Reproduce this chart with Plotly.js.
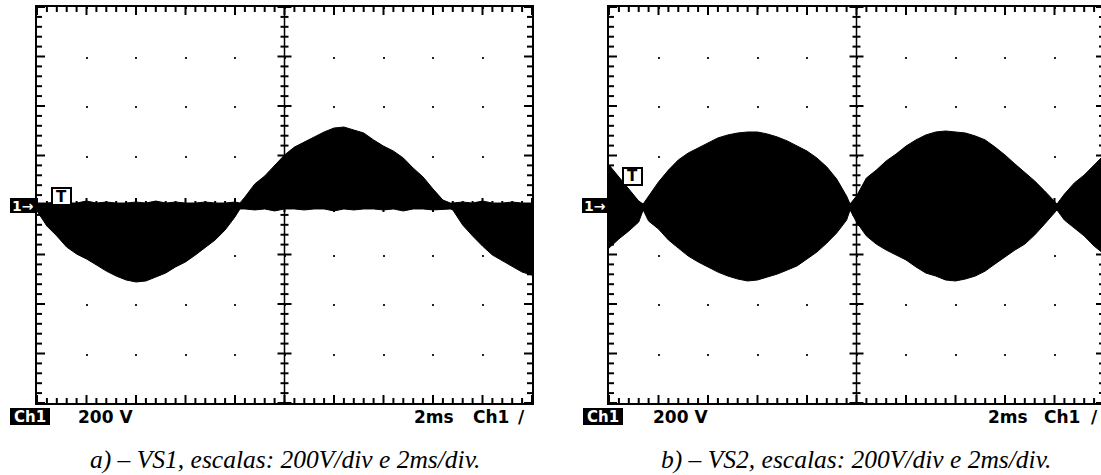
<!DOCTYPE html>
<html>
<head>
<meta charset="utf-8">
<script src="https://cdn.plot.ly/plotly-3.0.1.min.js"></script>
<style>
html,body{margin:0;padding:0;background:#fff;overflow:hidden;}
#chart{width:1110px;height:475px;}
</style>
</head>
<body>
<div id="chart"></div>
<script>
// ---------------- DATA ----------------
// Time in ms (2 ms/div, 10 div), voltage in V (200 V/div, 8 div)
const vs1_t = [0,0.4,0.8,1.2,1.6,2.0,2.4,2.8,3.2,3.6,4.0,4.4,4.8,5.2,5.6,6.0,6.4,6.8,7.2,7.6,8.0,8.2,
  8.4,8.8,9.2,9.6,10.0,10.4,10.8,11.2,11.6,12.0,12.4,12.8,13.2,13.6,14.0,14.4,14.8,15.2,15.6,16.0,16.4,16.7,
  16.8,17.2,17.6,18.0,18.4,18.8,19.2,19.6,20.0];
const vs1_upper = [8,8,12,8,8,16,8,12,8,8,12,8,16,8,12,8,8,12,8,8,12,8,
  32,85,117,158,202,234,255,275,295,311,315,303,291,263,238,218,190,149,113,65,20,8,
  8,12,8,16,8,8,12,8,8];
const vs1_lower = [-24,-85,-125,-170,-198,-218,-242,-267,-287,-303,-311,-307,-291,-275,-250,-230,-202,-170,-141,-101,-48,-16,
  -16,-20,-16,-24,-16,-16,-20,-16,-16,-24,-16,-20,-16,-16,-20,-16,-24,-16,-16,-20,-16,-16,
  -20,-81,-125,-166,-202,-226,-250,-271,-283];

const vs2_t = [0,0.4,0.8,1.2,1.38,1.6,2.0,2.4,2.8,3.2,3.6,4.0,4.4,4.8,5.2,5.6,6.0,6.4,6.8,7.2,7.6,8.0,8.4,8.8,9.2,9.6,9.74,
  10.0,10.4,10.8,11.2,11.6,12.0,12.4,12.8,13.2,13.6,14.0,14.4,14.8,15.2,15.6,16.0,16.4,16.8,17.2,17.6,18.0,18.1,
  18.4,18.8,19.2,19.6,20.0];
const vs2_upper = [162,113,61,16,4,36,93,141,182,210,230,250,271,283,291,295,295,287,275,259,238,218,190,154,105,36,4,
  36,109,141,178,206,238,263,283,295,299,295,291,279,263,234,202,166,133,97,57,16,4,
  44,89,121,162,202];
const vs2_lower = [-174,-137,-105,-69,-20,-65,-97,-141,-174,-206,-230,-250,-271,-287,-299,-307,-303,-291,-279,-263,-246,-218,-190,-154,-113,-61,-20,
  -69,-125,-158,-182,-202,-222,-250,-275,-287,-303,-307,-299,-287,-267,-238,-210,-182,-158,-121,-77,-32,-20,
  -61,-93,-125,-166,-198];

const scopeLabels = {ch: "Ch1", volts: "200 V", time: "2ms", trig: "Ch1", slope: "/", marker: "1→", trigMark: "T"};
const captions = ["a) – VS1, escalas: 200V/div e 2ms/div.", "b) – VS2, escalas: 200V/div e 2ms/div."];

// ---------------- LAYOUT ----------------
const W = 1110, H = 475;
const fx = x => x / W;
const fy = y => 1 - y / H;
const panels = [
  {xa:'x', ya:'y', left:37, right:532, trigX:52, trigY:188, captionX:285,
   labels:{chBox:10, volts:77, time:413, trig:472, slope:517}},
  {xa:'x2', ya:'y2', left:609, right:1104, trigX:623, trigY:168, captionX:856,
   labels:{chBox:583, volts:652, time:987, trig:1043, slope:1090}}
];
const TOP = 7, BOTTOM = 403;
const yDomain = [fy(BOTTOM), fy(TOP)];
const T_MIN = 0, T_MAX = 20, V_MIN = -800, V_MAX = 800;

function lineTrace(t, v, xa, ya, fill){
  const tr = {x:t, y:v, xaxis:xa, yaxis:ya, type:'scatter', mode:'lines',
    line:{color:'#000', width:1}, hoverinfo:'skip', showlegend:false};
  if (fill){ tr.fill = 'tonexty'; tr.fillcolor = '#000'; }
  return tr;
}
const data = [
  lineTrace(vs1_t, vs1_lower, 'x', 'y', false),
  lineTrace(vs1_t, vs1_upper, 'x', 'y', true),
  lineTrace(vs2_t, vs2_lower, 'x2', 'y2', false),
  lineTrace(vs2_t, vs2_upper, 'x2', 'y2', true)
];

function xAxis(domain){
  return {domain:domain, range:[T_MIN,T_MAX], showticklabels:false, zeroline:false, fixedrange:true,
    showline:true, linecolor:'#000', linewidth:2, mirror:true, ticks:'', dtick:2, tick0:0,
    showgrid:true, gridcolor:'#222', gridwidth:2, griddash:'2px,47.5px'};
}
function yAxis(anchor){
  return {domain:yDomain, range:[V_MIN,V_MAX], anchor:anchor, showticklabels:false, zeroline:false, fixedrange:true,
    showline:true, linecolor:'#000', linewidth:2, mirror:true, ticks:'', dtick:200, showgrid:false};
}

const shapes = [];
const annotations = [];
const scopeFont = {family:'DejaVu Sans', size:17, color:'#000'};
const tickLine = {color:'#000', width:2};

panels.forEach((p, i) => {
  // centre crosshair
  shapes.push({type:'line', xref:p.xa, yref:p.ya, x0:10, x1:10, y0:V_MIN, y1:V_MAX, line:{color:'#000', width:1.5}, layer:'above'});
  shapes.push({type:'line', xref:p.xa, yref:p.ya, x0:T_MIN, x1:T_MAX, y0:0, y1:0, line:{color:'#000', width:1.5}, layer:'above'});
  // vertical graduations (every 1/5 div = 40 V)
  for (let k = 0; k <= 40; k++){
    const v = V_MIN + k*40, major = (k % 5 === 0);
    const L = major ? 7 : 4, E = major ? 8 : 5;
    shapes.push({type:'line', xref:p.xa, yref:p.ya, xsizemode:'pixel', xanchor:10, x0:-L, x1:L, y0:v, y1:v, line:tickLine, layer:'above'});
    shapes.push({type:'line', xref:p.xa, yref:p.ya, xsizemode:'pixel', xanchor:T_MIN, x0:0, x1:E, y0:v, y1:v, line:tickLine, layer:'above'});
    shapes.push({type:'line', xref:p.xa, yref:p.ya, xsizemode:'pixel', xanchor:T_MAX, x0:-E, x1:0, y0:v, y1:v, line:tickLine, layer:'above'});
  }
  // horizontal graduations (every 1/5 div = 0.4 ms)
  for (let k = 0; k <= 50; k++){
    const t = k*2/5, major = (k % 5 === 0);
    const L = major ? 7 : 4, E = major ? 8 : 5;
    shapes.push({type:'line', xref:p.xa, yref:p.ya, ysizemode:'pixel', yanchor:0, y0:-L, y1:L, x0:t, x1:t, line:tickLine, layer:'above'});
    shapes.push({type:'line', xref:p.xa, yref:p.ya, ysizemode:'pixel', yanchor:V_MAX, y0:-E, y1:0, x0:t, x1:t, line:tickLine, layer:'above'});
    shapes.push({type:'line', xref:p.xa, yref:p.ya, ysizemode:'pixel', yanchor:V_MIN, y0:0, y1:E, x0:t, x1:t, line:tickLine, layer:'above'});
  }
  // "1->" ground marker
  const mkL = p.left - 27, mkR = p.left - 1;
  shapes.push({type:'rect', xref:'paper', yref:'paper', x0:fx(mkL), x1:fx(mkR), y0:fy(213), y1:fy(198),
    fillcolor:'#000', line:{width:0}});
  annotations.push({xref:'paper', yref:'paper', x:fx((mkL+mkR)/2), y:fy(205.5), xanchor:'center', yanchor:'middle',
    text:'<b>'+scopeLabels.marker+'</b>', showarrow:false, font:{family:'DejaVu Sans', size:14, color:'#fff'}});
  // trigger marker "T"
  shapes.push({type:'rect', xref:'paper', yref:'paper', x0:fx(p.trigX), x1:fx(p.trigX+19), y0:fy(p.trigY+17), y1:fy(p.trigY),
    fillcolor:'#fff', line:{color:'#000', width:2}});
  annotations.push({xref:'paper', yref:'paper', x:fx(p.trigX+9.5), y:fy(p.trigY+8.5), xanchor:'center', yanchor:'middle',
    text:'<b>'+scopeLabels.trigMark+'</b>', showarrow:false, font:{family:'DejaVu Sans', size:15, color:'#000'}});
  // bottom readouts
  const lb = p.labels;
  shapes.push({type:'rect', xref:'paper', yref:'paper', x0:fx(lb.chBox), x1:fx(lb.chBox+40), y0:fy(425), y1:fy(408),
    fillcolor:'#000', line:{width:0}});
  annotations.push({xref:'paper', yref:'paper', x:fx(lb.chBox+20), y:fy(416.5), xanchor:'center', yanchor:'middle',
    text:'<b>'+scopeLabels.ch+'</b>', showarrow:false, font:{family:'DejaVu Sans', size:15, color:'#fff'}});
  [['volts', lb.volts], ['time', lb.time], ['trig', lb.trig], ['slope', lb.slope]].forEach(([key, x]) => {
    annotations.push({xref:'paper', yref:'paper', x:fx(x), y:fy(416.5), xanchor:'left', yanchor:'middle',
      text:'<b>'+scopeLabels[key]+'</b>', showarrow:false, borderpad:0, font:scopeFont});
  });
  // caption
  annotations.push({xref:'paper', yref:'paper', x:fx(p.captionX), y:fy(459), xanchor:'center', yanchor:'middle',
    text:'<i>'+captions[i]+'</i>', showarrow:false, font:{family:'Liberation Serif', size:25.5, color:'#000'}});
});

const layout = {
  width:W, height:H, margin:{l:0, r:0, t:0, b:0, pad:0},
  paper_bgcolor:'#fff', plot_bgcolor:'#fff', showlegend:false,
  xaxis: Object.assign(xAxis([fx(37), fx(532)]), {anchor:'y'}),
  yaxis: yAxis('x'),
  xaxis2: Object.assign(xAxis([fx(609), fx(1104)]), {anchor:'y2'}),
  yaxis2: yAxis('x2'),
  shapes: shapes,
  annotations: annotations
};

Plotly.newPlot('chart', data, layout, {staticPlot:true, displayModeBar:false});
</script>
</body>
</html>
